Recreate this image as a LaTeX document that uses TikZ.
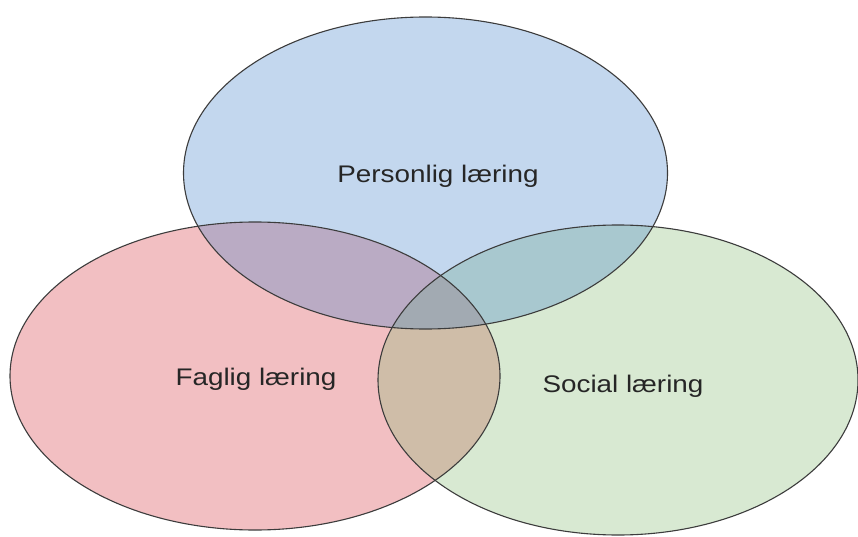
\documentclass[tikz,border=0pt]{standalone}
\usepackage{fontspec}
\setmainfont{Liberation Sans}
\definecolor{redfill}{RGB}{212,45,55}
\definecolor{greenfill}{RGB}{128,185,108}
\definecolor{bluefill}{RGB}{64,129,203}
\definecolor{edge}{RGB}{60,60,60}
\tikzset{
  setfill/.style={fill opacity=0.3},
  setedge/.style={draw=edge, line width=1.1pt},
  lbl/.style={anchor=base, inner sep=0pt, font=\fontsize{24}{28}\selectfont, text=black!85}
}
\begin{document}
\begin{tikzpicture}[x=1pt,y=-1pt]
\useasboundingbox (0,0) rectangle (858,537);
\fill[white] (0,0) rectangle (858,537);
% fills
\fill[redfill, setfill] (255,376) ellipse [x radius=245, y radius=154];
\fill[greenfill, setfill] (618,380) ellipse [x radius=240, y radius=155];
\fill[bluefill, fill opacity=0.31] (425.5,173) ellipse [x radius=242, y radius=156];
% outlines
\draw[setedge] (255,376) ellipse [x radius=245, y radius=154];
\draw[setedge] (618,380) ellipse [x radius=240, y radius=155];
\draw[setedge] (425.5,173) ellipse [x radius=242, y radius=156];
% labels
\node[lbl] (personlig) at (438,183) {\scalebox{1.16}[1]{Personlig læring}};
\node[lbl] (faglig) at (256,385) {\scalebox{1.16}[1]{Faglig læring}};
\node[lbl] (social) at (623,392) {\scalebox{1.16}[1]{Social læring}};
\end{tikzpicture}
\end{document}
